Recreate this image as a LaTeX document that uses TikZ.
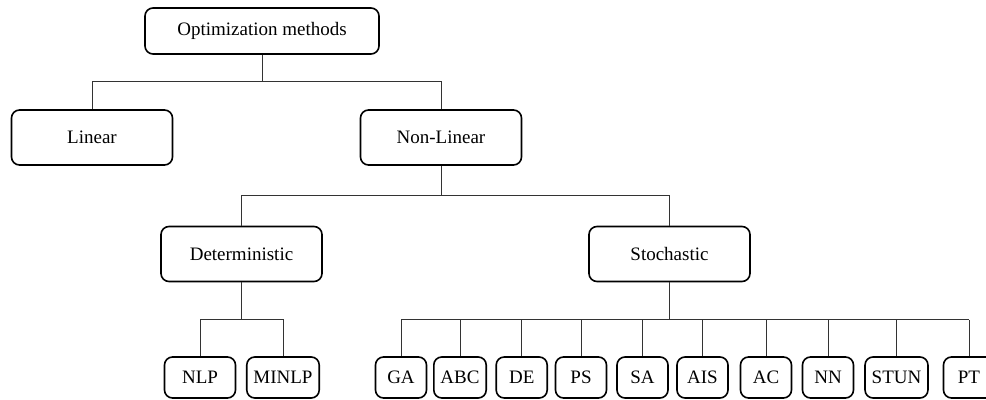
\documentclass[tikz,border=0pt]{standalone}
\usepackage{fontspec}
\setmainfont{Liberation Serif}
\usepackage{tikz}
\usetikzlibrary{positioning, calc}
\tikzset{
  methodbox/.style={draw, rounded corners=4pt, line width=0.8pt, minimum width=80.5pt, minimum height=27.5pt, align=center, fill=white},
  leafbox/.style={draw, rounded corners=4pt, line width=0.8pt, minimum width=25.5pt, minimum height=20.5pt, align=center, fill=white},
  branch/.style={line width=0.5pt, draw=black!80}
}

\begin{document}
\begin{tikzpicture}[x=0.5pt, y=-0.5pt, font=\fontsize{9.5}{11}\selectfont]
        % Page frame
        \clip (0,0) rectangle (986,400);
        \useasboundingbox (0,0) rectangle (986,400);

        % Bus levels
        \coordinate (bus1) at (0,82);
        \coordinate (bus2) at (0,196);
        \coordinate (bus3) at (0,320);

        % Root and first level
        \node[methodbox, minimum width=117pt, minimum height=23pt] (opt) at (262,31) {Optimization methods};
        \node[methodbox] (lin)    at (92,137.5)  {Linear};
        \node[methodbox] (nonlin) at (441,137.5) {Non-Linear};

        % Second level
        \node[methodbox] (det) at (241.5,254) {Deterministic};
        \node[methodbox] (sto) at (669.5,254) {Stochastic};

        % Leaves
        \node[leafbox, minimum width=35.5pt] (nlp)   at (200,377.5) {NLP};
        \node[leafbox, minimum width=36pt]   (minlp) at (283,377.5) {MINLP};
        \foreach \nm/\xx/\lbl in {ga/401/GA, abc/460/ABC, de/521.7/DE, ps/581/PS, sa/642.5/SA,
                                  ais/702.5/AIS, ac/766/AC, nn/828/NN, stun/896.5/STUN, pt/969/PT}
          \node[leafbox] (\nm) at (\xx,377.5) {\lbl};

        % Links
        \draw[branch] (opt.south) -- (opt.south |- bus1);
        \draw[branch] (lin.north) -- (lin.north |- bus1) -- (nonlin.north |- bus1) -- (nonlin.north);

        \draw[branch] (nonlin.south) -- (nonlin.south |- bus2);
        \draw[branch] (det.north) -- (det.north |- bus2) -- (sto.north |- bus2) -- (sto.north);

        \draw[branch, line width=0.7pt] (det.south) -- (det.south |- bus3);
        \draw[branch] (nlp.north) -- (nlp.north |- bus3) -- (minlp.north |- bus3) -- (minlp.north);

        \draw[branch, line width=0.7pt] (sto.south) -- (sto.south |- bus3);
        \draw[branch] (ga.north |- bus3) -- (pt.north |- bus3);
        \foreach \nm in {ga, abc, de, ps, sa, ais, ac, nn, stun, pt}
          \draw[branch] (\nm.north) -- (\nm.north |- bus3);
    \end{tikzpicture}
\end{document}
